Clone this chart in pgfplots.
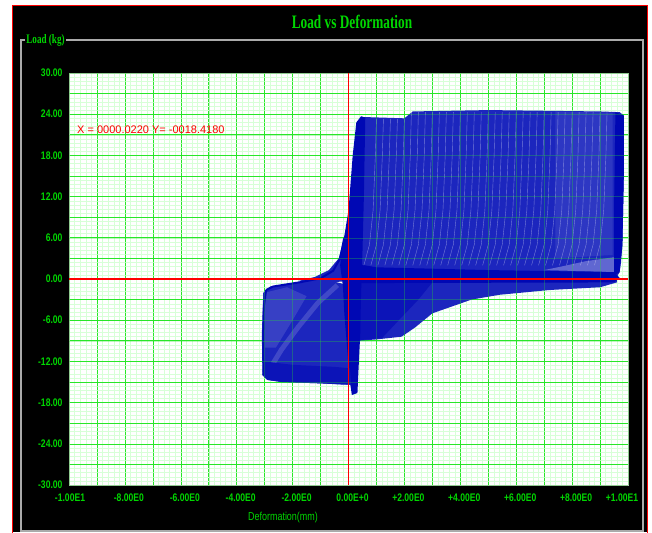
\documentclass[border=0pt]{standalone}
\usepackage{pgfplots}
\pgfplotsset{compat=1.18}
\usepackage{fontspec}
\newfontfamily\labfont[FakeStretch=0.78]{Liberation Sans}
\newfontfamily\redfont{Liberation Sans}
\newfontfamily\titfont[FakeStretch=0.7]{Liberation Serif}
\definecolor{tgreen}{RGB}{0,215,0}
\definecolor{gmaj}{RGB}{40,230,40}
\definecolor{gmin}{RGB}{215,255,215}
\definecolor{bdark}{RGB}{0,8,180}
\definecolor{bmid}{RGB}{28,38,190}
\definecolor{bden}{RGB}{12,20,184}
\definecolor{frame}{RGB}{170,170,170}
\begin{document}
\begin{tikzpicture}
\useasboundingbox (0,0) rectangle (652pt,532pt);
\fill[white] (0,0) rectangle (652pt,532pt);
\fill[black] (12.5pt,0) rectangle (647.5pt,526.5pt);
\draw[red, line width=1pt] (12.5pt,-1pt) -- (12.5pt,526.5pt) -- (647.5pt,526.5pt) -- (647.5pt,-1pt);
\draw[frame, line width=1.5pt] (25pt,492pt) -- (21pt,492pt) -- (21pt,1.2pt) -- (643pt,1.2pt) -- (643pt,492pt) -- (66pt,492pt);
\node[text=tgreen, font=\titfont\bfseries\fontsize{13}{14}\selectfont, inner sep=0pt] at (45.5pt,492pt) {Load (kg)};
\node[text=tgreen, font=\titfont\bfseries\fontsize{19}{20}\selectfont] at (352pt,510pt) {Load vs Deformation};
\begin{axis}[
  at={(69pt,47pt)}, anchor=south west,
  scale only axis, width=559pt, height=412pt,
  xmin=-10, xmax=10, ymin=-30, ymax=30,
  axis background/.style={fill=white},
  axis line style={draw=gray!50, line width=0.4pt},
  xtick={-10,-9,...,10}, ytick={-30,-27,...,30},
  xticklabels={{\hspace*{-6pt}-1.00E1},{},-8.00E0,{},-6.00E0,{},-4.00E0,{},-2.00E0,{},0.00E+0,{},+2.00E0,{},+4.00E0,{},+6.00E0,{},+8.00E0,{},{\hspace*{-20pt}+1.00E1}},
  yticklabels={-30.00,{},-24.00,{},-18.00,{},-12.00,{},-6.00,{},0.00,{},6.00,{},12.00,{},18.00,{},24.00,{},30.00},
  minor x tick num=4, minor y tick num=4,
  grid=both,
  major grid style={draw=gmaj, line width=0.6pt},
  minor grid style={draw=gmin, line width=0.4pt},
  major tick length=0pt, minor tick length=0pt,
  tick label style={font=\labfont\bfseries\fontsize{11}{12}\selectfont, text=tgreen},
  xticklabel style={yshift=-5pt, xshift=4pt},
  yticklabel style={xshift=-3pt},
  unbounded coords=jump,
]
% upper block envelope
\addplot[draw=none, fill=bmid] coordinates {
(-1.8,-0.3) (-1.2,0.3) (-0.7,1.3) (-0.35,3.0) (-0.15,6) (0.05,10) (0.2,18) (0.3,22.5) (0.45,23.6) (2.0,23.4) (2.3,24.4) (5.0,24.6) (7.0,24.5) (9.0,24.4) (9.7,24.3) (9.85,23.8) (9.85,15) (9.8,5) (9.75,2.5) (9.7,1.0) (9.6,0.3) (9.0,0.0) (5,0) (1,0) (0,-0.3) (-1.0,-0.6)};
% belly (compression, right)
\addplot[draw=none, fill=bmid] coordinates {
(0.2,0) (9.6,0) (9.6,-0.5) (9.0,-1.2) (7.2,-1.6) (5.4,-2.3) (4.4,-3.0) (3.0,-5.0) (2.4,-7.0) (1.9,-8.4) (1.0,-8.8) (0.3,-9.0)};
% lower-left loops
\addplot[draw=none, fill=bmid] coordinates {
(-0.5,-0.4) (-1.7,-0.4) (-2.8,-1.1) (-3.05,-2.0) (-3.1,-8) (-3.08,-14) (-2.9,-14.7) (-2.4,-15.0) (-1.0,-15.2) (-0.1,-15.4) (0.1,-15.4) (0.1,-1)};
\addplot[draw=none, fill=bden] coordinates {
(0.4,-0.5) (3.0,-0.5) (2.5,-3) (1.8,-6) (1.2,-8.6) (0.4,-8.9)};
% lighter zones
\addplot[draw=none, fill=white, fill opacity=0.12] coordinates {
(-3.0,-2) (-2.2,-1.2) (-1.5,-2.5) (-2.0,-6) (-2.6,-10) (-3.0,-10)};
\addplot[white, opacity=0.16, line width=5pt] coordinates {
(-0.4,-0.9) (-1.1,-3.5) (-1.8,-7) (-2.4,-10.3) (-2.7,-12.3)};
\addplot[draw=none, fill=white, fill opacity=0.08] coordinates {
(7.4,3) (9.45,3.5) (9.45,24.2) (7.4,24.4)};
\addplot[draw=none, fill=white, fill opacity=0.3] coordinates {
(7.0,1.3) (9.55,1.0) (9.55,3.2) (8.5,2.6) (7.6,1.8)};
% dense bands
\addplot[draw=none, fill=bdark] coordinates {
(-0.2,5) (0.0,10) (0.15,18) (0.28,22.8) (0.45,23.7) (0.6,23.5) (0.55,12) (0.5,4) (0.45,-2) (0.42,-8) (0.36,-13) (0.32,-16.6) (0.12,-16.9) (0.05,-15) (-0.05,-10) (-0.15,-5) (-0.2,-1) (-0.3,2)};
\addplot[draw=none, fill=bdark] coordinates {
(0,-0.6) (9.5,-0.5) (9.7,0.2) (9.5,1.0) (5,1.3) (1,1.7) (0.3,2.2) (0,1.5)};
\addplot[draw=none, fill=bdark] coordinates {
(9.55,24.3) (9.85,23.8) (9.85,15) (9.8,5) (9.7,1) (9.5,0.5) (9.5,10)};
\addplot[draw=none, fill=bden] coordinates {
(-3.05,-12) (-2.0,-12.5) (-0.5,-12.8) (0.05,-13) (0.1,-15.4) (-1.0,-15.2) (-2.4,-15.0) (-2.9,-14.7) (-3.08,-14)};
\addplot[bdark, line width=2pt] coordinates {
(-2.95,-1.6) (-2.7,-1.1) (-1.7,-0.45) (-1.0,0.1) (-0.55,1.2) (-0.3,3) (-0.15,6)};
\addplot[bdark, line width=2pt] coordinates {
(-2.95,-1.6) (-3.03,-4) (-3.05,-10) (-3.03,-14)};
% unloading stripes in the upper block
\addplot[white, opacity=0.4, line width=0.4pt] table[row sep=\\] {
x y\\
1.0 23.3\\ 0.96 18\\ 0.88 10\\ 0.75 5\\ 0.55 2\\ nan nan\\
1.25 23.3\\ 1.21 18\\ 1.13 10\\ 1.0 5\\ 0.8 2\\ nan nan\\
1.5 23.3\\ 1.46 18\\ 1.38 10\\ 1.25 5\\ 1.05 2\\ nan nan\\
1.75 23.3\\ 1.71 18\\ 1.63 10\\ 1.5 5\\ 1.3 2\\ nan nan\\
2.0 23.3\\ 1.96 18\\ 1.88 10\\ 1.75 5\\ 1.55 2\\ nan nan\\
2.25 24.3\\ 2.21 18\\ 2.13 10\\ 2.0 5\\ 1.8 2\\ nan nan\\
2.5 24.3\\ 2.46 18\\ 2.38 10\\ 2.25 5\\ 2.05 2\\ nan nan\\
2.75 24.3\\ 2.71 18\\ 2.63 10\\ 2.5 5\\ 2.3 2\\ nan nan\\
3.0 24.3\\ 2.96 18\\ 2.88 10\\ 2.75 5\\ 2.55 2\\ nan nan\\
3.25 24.3\\ 3.21 18\\ 3.13 10\\ 3.0 5\\ 2.8 2\\ nan nan\\
3.5 24.3\\ 3.46 18\\ 3.38 10\\ 3.25 5\\ 3.05 2\\ nan nan\\
3.75 24.3\\ 3.71 18\\ 3.63 10\\ 3.5 5\\ 3.3 2\\ nan nan\\
4.0 24.3\\ 3.96 18\\ 3.88 10\\ 3.75 5\\ 3.55 2\\ nan nan\\
4.25 24.3\\ 4.21 18\\ 4.13 10\\ 4.0 5\\ 3.8 2\\ nan nan\\
4.5 24.3\\ 4.46 18\\ 4.38 10\\ 4.25 5\\ 4.05 2\\ nan nan\\
4.75 24.3\\ 4.71 18\\ 4.63 10\\ 4.5 5\\ 4.3 2\\ nan nan\\
5.0 24.3\\ 4.96 18\\ 4.88 10\\ 4.75 5\\ 4.55 2\\ nan nan\\
5.25 24.3\\ 5.21 18\\ 5.13 10\\ 5.0 5\\ 4.8 2\\ nan nan\\
5.5 24.3\\ 5.46 18\\ 5.38 10\\ 5.25 5\\ 5.05 2\\ nan nan\\
5.75 24.3\\ 5.71 18\\ 5.63 10\\ 5.5 5\\ 5.3 2\\ nan nan\\
6.0 24.3\\ 5.96 18\\ 5.88 10\\ 5.75 5\\ 5.55 2\\ nan nan\\
6.25 24.3\\ 6.21 18\\ 6.13 10\\ 6.0 5\\ 5.8 2\\ nan nan\\
6.5 24.3\\ 6.46 18\\ 6.38 10\\ 6.25 5\\ 6.05 2\\ nan nan\\
6.75 24.3\\ 6.71 18\\ 6.63 10\\ 6.5 5\\ 6.3 2\\ nan nan\\
7.0 24.3\\ 6.96 18\\ 6.88 10\\ 6.75 5\\ 6.55 2\\ nan nan\\
7.25 24.3\\ 7.21 18\\ 7.13 10\\ 7.0 5\\ 6.8 2\\ nan nan\\
7.5 24.3\\ 7.46 18\\ 7.38 10\\ 7.25 5\\ 7.05 2\\ nan nan\\
7.75 24.3\\ 7.71 18\\ 7.63 10\\ 7.5 5\\ 7.3 2\\ nan nan\\
8.0 24.3\\ 7.96 18\\ 7.88 10\\ 7.75 5\\ 7.55 2\\ nan nan\\
8.25 24.3\\ 8.21 18\\ 8.13 10\\ 8.0 5\\ 7.8 2\\ nan nan\\
8.5 24.3\\ 8.46 18\\ 8.38 10\\ 8.25 5\\ 8.05 2\\ nan nan\\
8.75 24.3\\ 8.71 18\\ 8.63 10\\ 8.5 5\\ 8.3 2\\ nan nan\\
9.0 24.3\\ 8.96 18\\ 8.88 10\\ 8.75 5\\ 8.55 2\\ nan nan\\
9.25 24.3\\ 9.21 18\\ 9.13 10\\ 9.0 5\\ 8.8 2\\
};
\end{axis}
% overlay: grid seen through the dense curves, and the red zero axes
\begin{axis}[
  at={(69pt,47pt)}, anchor=south west,
  scale only axis, width=559pt, height=412pt,
  xmin=-10, xmax=10, ymin=-30, ymax=30,
  axis line style={draw=none},
  xtick={-10,-9,...,10}, ytick={-30,-27,...,30},
  xticklabels={}, yticklabels={},
  major tick length=0pt,
  grid=major,
  major grid style={draw=gmaj, line width=0.5pt, opacity=0.3},
]
\draw[red, line width=1.3pt] (axis cs:-10,0) -- (axis cs:10,0);
\draw[red, line width=1.3pt] (axis cs:0,-30) -- (axis cs:0,30);
\end{axis}
\node[anchor=west, text=red, font=\redfont\fontsize{11}{12}\selectfont, inner sep=0pt] at (77pt,402pt) {X = 0000.0220 Y= -0018.4180};
\node[text=tgreen, font=\labfont\fontsize{11.5}{12}\selectfont] at (283pt,14pt) {Deformation(mm)};
\end{tikzpicture}
\end{document}
